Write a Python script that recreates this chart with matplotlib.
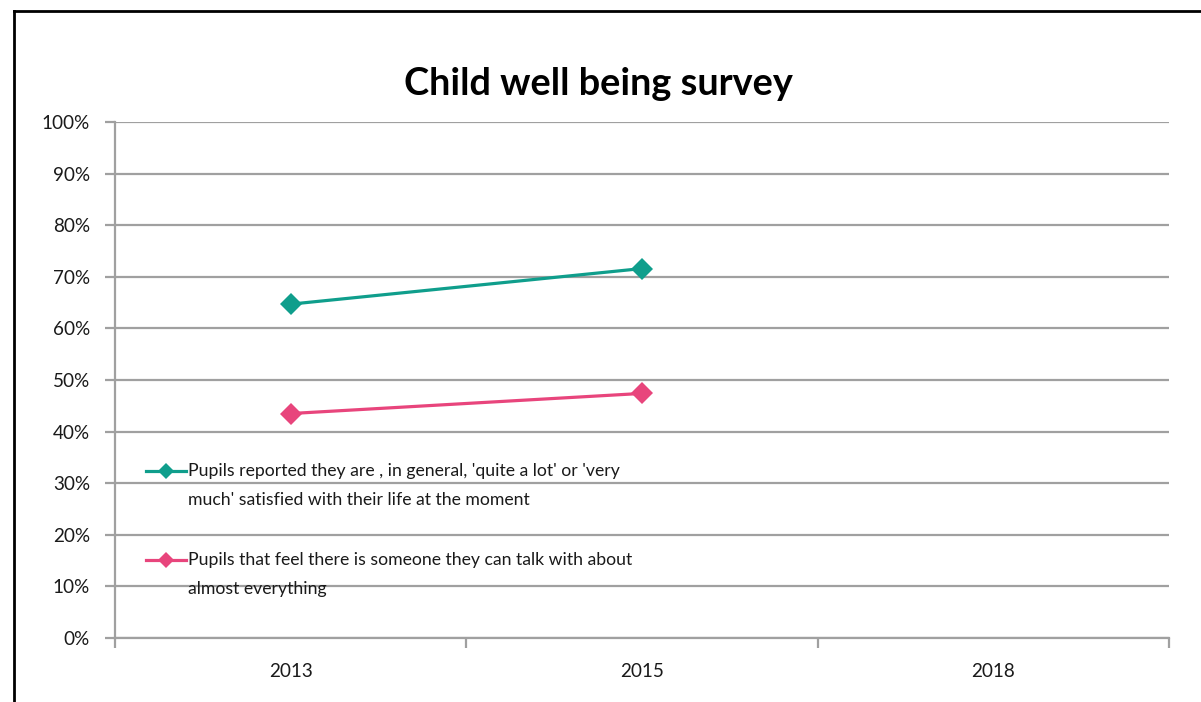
import matplotlib
matplotlib.use("Agg")
import matplotlib.pyplot as plt
from matplotlib.lines import Line2D
from matplotlib.ticker import FixedLocator, FuncFormatter

plt.rcParams['font.family'] = ['Lato', 'DejaVu Sans']

# ---- data ----
categories = ["2013", "2015", "2018"]
satisfied = [64.7, 71.6]          # % values for 2013, 2015
talk_someone = [43.5, 47.4]       # % values for 2013, 2015
series_labels = [
    ["Pupils reported they are , in general, 'quite a lot' or 'very",
     "much' satisfied with their life at the moment"],
    ["Pupils that feel there is someone they can talk with about",
     "almost everything"],
]
yticks = [0, 10, 20, 30, 40, 50, 60, 70, 80, 90, 100]
title = "Child well being survey"

teal = "#0f9e8c"
pink = "#e8457c"
grid_c = "#a0a0a0"
text_c = "#1a1a1a"

W, H = 1201, 702
fig = plt.figure(figsize=(W / 100, H / 100), dpi=100)
fig.patch.set_facecolor("white")

L, R, T, B = 115, 1169, 122, 638
ax = fig.add_axes([L / W, 1 - B / H, (R - L) / W, (B - T) / H])

x_idx = list(range(len(categories)))
ax.plot(x_idx[:len(satisfied)], satisfied, color=teal, lw=2.3, marker="D", ms=11.5,
        markeredgewidth=0, zorder=5, clip_on=False)
ax.plot(x_idx[:len(talk_someone)], talk_someone, color=pink, lw=2.3, marker="D", ms=11.5,
        markeredgewidth=0, zorder=5, clip_on=False)

ax.set_xlim(-0.5, len(categories) - 0.5)
ax.set_ylim(0, 100)

# grid
ax.set_yticks(yticks)
ax.yaxis.set_major_formatter(FuncFormatter(lambda v, p: f"{int(v)}%"))
ax.grid(axis="y", color=grid_c, lw=1.6)
ax.set_axisbelow(True)

# x ticks at category boundaries, labels at centers
ax.xaxis.set_major_locator(FixedLocator([i - 0.5 for i in range(len(categories) + 1)]))
ax.xaxis.set_major_formatter(FuncFormatter(lambda v, p: ""))
ax.xaxis.set_minor_locator(FixedLocator(x_idx))
ax.set_xticklabels(categories, minor=True)
ax.tick_params(axis="x", which="major", direction="out", length=7, width=1.6, color=grid_c)
ax.tick_params(axis="x", which="minor", length=0, pad=18, labelsize=13.6, labelcolor=text_c)
ax.tick_params(axis="y", direction="out", length=7, width=1.6, color=grid_c, pad=11,
               labelsize=13.6, labelcolor=text_c)

for s in ["top", "right"]:
    ax.spines[s].set_visible(False)
for s in ["left", "bottom"]:
    ax.spines[s].set_color(grid_c)
    ax.spines[s].set_linewidth(1.6)

# title
fig.text(598 / W, 1 - 84 / H, title, ha="center", va="center", fontsize=27.3,
         fontweight="bold", color="black")

# manual legend (handle aligned with first text line)
def px2ax(px, py):
    return (px - L) / (R - L), (B - py) / (B - T)

for (col, lines, py) in [(teal, series_labels[0], 471), (pink, series_labels[1], 560)]:
    x0, y0 = px2ax(146, py)
    x1, _ = px2ax(186, py)
    xm, _ = px2ax(166, py)
    ax.add_line(Line2D([x0, x1], [y0, y0], transform=ax.transAxes, color=col, lw=2.3,
                       zorder=6))
    ax.add_line(Line2D([xm], [y0], transform=ax.transAxes, color=col, marker="D", ms=8.5,
                       markeredgewidth=0, zorder=6))
    for k, line in enumerate(lines):
        tx, ty = px2ax(188, py + 29 * k)
        ax.text(tx, ty, line, transform=ax.transAxes, ha="left", va="center",
                fontsize=12.7, color=text_c, zorder=6)

# outer frame (left & top visible)
fig.add_artist(Line2D([14 / W, 14 / W], [0, 1 - 11 / H], transform=fig.transFigure,
                      color="black", lw=2))
fig.add_artist(Line2D([14 / W, 1], [1 - 11 / H, 1 - 11 / H], transform=fig.transFigure,
                      color="black", lw=2))

fig.savefig("out.png", dpi=100, facecolor="white")
